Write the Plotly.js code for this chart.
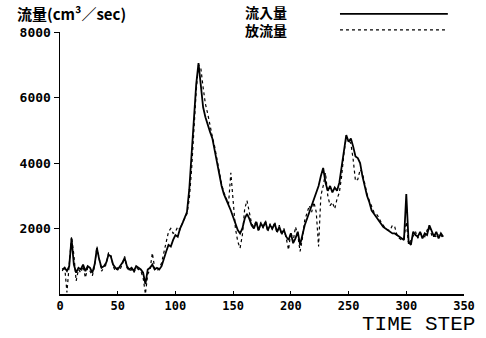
<!DOCTYPE html>
<html>
<head>
<meta charset="utf-8">
<script src="https://cdn.plot.ly/plotly-3.0.1.min.js"></script>
<style>
  html, body { margin: 0; padding: 0; background: #fff; }
  #chart { width: 486px; height: 338px; }
</style>
</head>
<body>
<div id="chart"></div>
<script>
// Time steps
const timeSteps = [2,4,6,8,10,12,14,16,18,20,22,24,26,28,30,32,34,36,38,40,42,44,46,48,50,52,54,56,58,60,
  62,64,66,68,70,72,74,76,78,80,82,84,86,88,90,92,94,96,98,100,102,104,106,108,110,112,114,116,118,120,
  122,124,126,128,130,132,134,136,138,140,142,144,146,148,150,152,154,156,158,160,162,164,166,168,170,172,174,176,178,180,
  182,184,186,188,190,192,194,196,198,200,202,204,206,208,210,212,214,216,218,220,222,224,226,228,230,232,234,236,238,240,
  242,244,246,248,250,252,254,256,258,260,262,264,266,268,270,272,274,276,278,280,282,284,286,288,290,292,294,296,298,300,
  302,304,306,308,310,312,314,316,318,320,322,324,326,328,330,332];

// 流入量 (inflow, solid)
const inflow = [750,800,700,850,1700,900,650,800,750,900,700,850,800,650,900,1400,1050,800,850,950,
  1200,1150,900,800,750,850,950,1100,850,750,800,700,850,800,750,650,300,750,800,900,
  750,800,750,850,1100,1300,1500,1450,1650,1800,1750,2000,2150,2300,2500,3200,4300,5400,6400,7050,
  6300,5700,5400,5150,4950,4750,4400,3950,3600,3300,3050,2900,2700,2550,2350,2150,1950,1850,2000,2300,
  2450,2300,2100,2000,2200,1950,2150,2050,2200,1950,2100,2000,2150,1900,2050,1850,1950,1750,1650,1850,
  1550,1700,1900,1500,1800,2100,2300,2500,2700,2900,3100,3300,3600,3850,3400,3150,3300,3100,3250,3150,
  3400,3900,4500,4850,4650,4750,4500,4200,4150,4000,3600,3250,3000,2800,2550,2450,2350,2250,2150,2050,
  2000,1950,1900,1850,1850,1800,1750,1700,1650,3050,1600,1500,1900,1800,1750,1900,1700,1850,1800,2100,
  1900,1750,1900,1700,1850,1750];

// 放流量 (outflow, dotted)
const outflow = [700,850,50,800,1750,1200,400,750,650,850,500,800,700,550,850,1450,1100,700,800,900,
  1250,1200,850,700,800,750,900,1150,800,700,750,650,800,750,700,500,0,600,750,1250,
  800,700,800,950,1300,1600,1900,2000,1850,1900,2050,1950,2200,2300,2450,2900,3800,5000,6200,7000,
  6900,6300,5800,5500,5100,4800,4500,4100,3700,3350,3100,2950,2750,3700,2700,2000,1600,1400,1800,2600,
  2850,2500,2150,2050,2250,1900,2200,2000,2250,1900,2150,1950,2200,1850,2100,1800,2000,1700,1350,1900,
  1600,2050,1800,1300,1700,2250,2450,2700,2500,2800,2500,1450,3000,3300,3700,3000,2700,2800,2600,2900,
  3100,3600,4300,4800,4700,4600,4100,3450,3500,3800,3700,3400,3050,2850,2650,2500,2450,2350,2200,2100,
  2000,1950,1950,2100,2050,1800,1700,1650,1700,2200,1500,1650,1800,1900,1700,1850,1800,1750,1950,2050,
  1800,1850,1700,1850,1800,1700];

const xTickVals = [0,50,100,150,200,250,300,350];
const yTickVals = [2000,4000,6000,8000];
const legendNames = ['流入量', '放流量'];

const monoFont = '"DejaVu Sans Mono", monospace';
const cjkFont = '"Noto Sans CJK JP", "Noto Sans CJK SC", sans-serif';

const traces = [
  { x: timeSteps, y: inflow, type: 'scatter', mode: 'lines', name: legendNames[0],
    line: { color: '#000', width: 1.8 } },
  { x: timeSteps, y: outflow, type: 'scatter', mode: 'lines', name: legendNames[1],
    line: { color: '#000', width: 1.2, dash: 'dot' } }
];

const layout = {
  width: 486, height: 338,
  margin: { l: 60, r: 22, t: 32, b: 44 },
  paper_bgcolor: '#fff', plot_bgcolor: '#fff',
  showlegend: false,
  xaxis: {
    range: [0, 350], tickvals: xTickVals, ticktext: xTickVals.map(String),
    showgrid: false, zeroline: false, showline: true, linecolor: '#000', linewidth: 1.5,
    ticks: 'inside', ticklen: 3, tickcolor: '#000',
    tickfont: { family: monoFont, size: 12, color: '#000', weight: 'bold' },
    fixedrange: true
  },
  yaxis: {
    range: [0, 8000], tickvals: yTickVals, ticktext: yTickVals.map(String),
    showgrid: false, zeroline: false, showline: true, linecolor: '#000', linewidth: 1.5,
    ticks: 'outside', ticklen: 5, tickcolor: '#000',
    tickfont: { family: monoFont, size: 13, color: '#000', weight: 'bold' },
    fixedrange: true
  },
  annotations: [
    { text: '流量(cm³／sec)', xref: 'paper', yref: 'paper', x: -0.111, y: 1.07,
      xanchor: 'left', yanchor: 'middle', showarrow: false,
      font: { family: cjkFont, size: 15, color: '#000', weight: 'bold' } },
    { text: legendNames.join('<br>'), xref: 'paper', yref: 'paper', x: 0.455, y: 1.042,
      xanchor: 'left', yanchor: 'middle', align: 'left', showarrow: false, borderpad: 0,
      font: { family: cjkFont, size: 14, color: '#000', weight: 'bold' } },
    { text: 'TIME STEP', xref: 'paper', yref: 'paper', x: 1.03, y: -0.1183,
      xanchor: 'right', yanchor: 'middle', showarrow: false, borderpad: 0,
      font: { family: '"Liberation Mono", "Courier New", monospace', size: 21, color: '#000' } }
  ],
  shapes: [
    { type: 'line', xref: 'paper', yref: 'paper', x0: 0.693, x1: 0.96, y0: 1.069, y1: 1.069,
      line: { color: '#000', width: 1.8 } },
    { type: 'line', xref: 'paper', yref: 'paper', x0: 0.693, x1: 0.96, y0: 1.008, y1: 1.008,
      line: { color: '#000', width: 1.2, dash: 'dot' } }
  ]
};

Plotly.newPlot('chart', traces, layout, { displayModeBar: false, staticPlot: true });
</script>
</body>
</html>
